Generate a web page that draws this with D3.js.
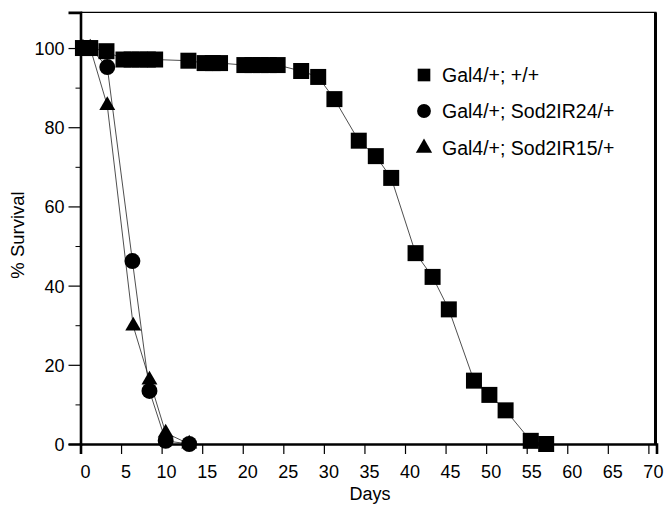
<!DOCTYPE html>
<html><head><meta charset="utf-8">
<script src="https://cdn.jsdelivr.net/npm/d3@7"></script>
<style>
html,body{margin:0;padding:0;background:#fff;}
text{font-family:"Liberation Sans",Arial,Helvetica,sans-serif;fill:#000;}
</style></head>
<body>
<svg id="chart" width="665" height="506"></svg>
<script>
// ---- data ----
const seriesNames = ["Gal4/+; +/+", "Gal4/+; Sod2IR24/+", "Gal4/+; Sod2IR15/+"];
const ctrlDays   = [0.3,1.2,3.2,5.3,6.3,7.3,8.3,9.2,13.3,15.3,16.3,17.2,20.2,21.2,22.2,23.2,24.3,27.2,29.3,31.3,34.3,36.4,38.3,41.3,43.4,45.4,48.5,50.4,52.4,55.5,57.4];
const ctrlSurv   = [100,100,99.2,97.1,97.1,97.1,97.1,97.1,96.8,96.2,96.2,96.2,95.7,95.7,95.7,95.7,95.7,94.2,92.7,87.1,76.6,72.7,67.2,48.2,42.2,34.0,16.0,12.4,8.5,0.8,0];
const ir24Days   = [0.3,1.2,3.3,6.4,8.5,10.5,13.4];
const ir24Surv   = [100,100,95.2,46.2,13.4,0.8,0];
const ir15Days   = [0.3,1.2,3.3,6.5,8.5,10.5,13.4];
const ir15Surv   = [100,100,85.5,29.8,16.2,2.8,0];
const xTicks = [0,5,10,15,20,25,30,35,40,45,50,55,60,65,70];
const yTicks = [0,20,40,60,80,100];
const yMinorTicks = [10,30,50,70,90];

const svg = d3.select("#chart");
const x = d3.scaleLinear().domain([0,71]).range([80.5,656.5]);
const y = d3.scaleLinear().domain([0,109]).range([444,12.4]);

// frame: top and right
svg.append("line").attr("x1",x(0)).attr("x2",x(71)).attr("y1",y(109)).attr("y2",y(109))
  .attr("stroke","#000").attr("stroke-width",1.3);
svg.append("line").attr("x1",x(71)-1).attr("x2",x(71)-1).attr("y1",y(109)).attr("y2",y(0))
  .attr("stroke","#000").attr("stroke-width",3);

// left axis
const gy = svg.append("g").attr("transform",`translate(${x(0)},0)`)
  .call(d3.axisLeft(y).tickValues(yTicks).tickSize(12).tickPadding(4).tickFormat(d3.format("d")));
gy.select(".domain").attr("stroke-width",2.6);
gy.selectAll(".tick line").attr("stroke-width",1.2);
gy.selectAll(".tick text").style("font-size","18px").attr("dy","0.36em");
const gym = svg.append("g").attr("transform",`translate(${x(0)},0)`)
  .call(d3.axisLeft(y).tickValues(yMinorTicks).tickSize(5).tickFormat(""));
gym.select(".domain").remove();
gym.selectAll(".tick line").attr("stroke-width",1);

// bottom axis
const gx = svg.append("g").attr("transform",`translate(0,${y(0)})`)
  .call(d3.axisBottom(x).tickValues(xTicks).tickSize(10).tickPadding(11).tickFormat(d3.format("d")));
gx.select(".domain").attr("stroke-width",2.6);
gx.selectAll(".tick line").attr("stroke-width",1.2);
gx.selectAll(".tick text").style("font-size","18px").attr("dx","4.5");

// axis titles
svg.append("text").attr("x",370).attr("y",500).attr("text-anchor","middle")
  .style("font-size","18px").text("Days");
svg.append("text").attr("transform","translate(24,235) rotate(-90)").attr("text-anchor","middle")
  .style("font-size","18.5px").text("% Survival");

// series
const series = [
  {days: ir15Days, surv: ir15Surv, sym: d3.symbolTriangle, size: 110},
  {days: ir24Days, surv: ir24Surv, sym: d3.symbolCircle, size: 200},
  {days: ctrlDays, surv: ctrlSurv, sym: d3.symbolSquare, size: 256},
];
const line = d3.line().x(d=>x(d[0])).y(d=>y(d[1]));
series.forEach(s=>{
  const pts = s.days.map((d,i)=>[d,s.surv[i]]);
  svg.append("path").attr("d",line(pts)).attr("fill","none")
    .attr("stroke","#222").attr("stroke-width",0.8);
});
series.forEach(s=>{
  const pts = s.days.map((d,i)=>[d,s.surv[i]]);
  svg.append("g").selectAll("path").data(pts).join("path")
    .attr("transform",d=>`translate(${x(d[0])},${y(d[1])})`)
    .attr("d",d3.symbol().type(s.sym).size(s.size)).attr("fill","#000");
});

// legend
const legY = [75,111,148];
const legSyms = [[d3.symbolSquare,160],[d3.symbolCircle,150],[d3.symbolTriangle,115]];
seriesNames.forEach((n,i)=>{
  svg.append("path").attr("transform",`translate(424,${legY[i]})`)
    .attr("d",d3.symbol().type(legSyms[i][0]).size(legSyms[i][1])).attr("fill","#000");
  svg.append("text").attr("x",442).attr("y",legY[i]).attr("dy","0.36em")
    .style("font-size","19.5px").text(n);
});
</script>
</body></html>
